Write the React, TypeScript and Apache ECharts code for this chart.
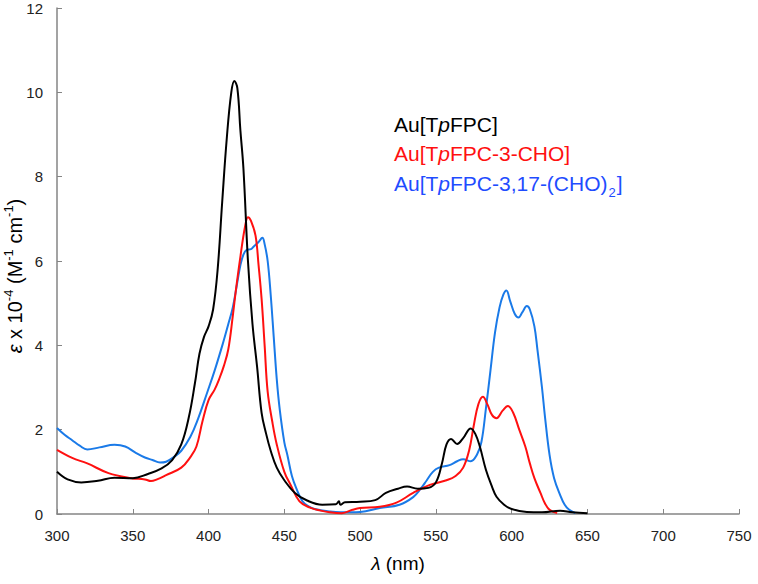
import React, { useEffect, useRef } from "react";
import * as echarts from "echarts";

const xTicks = [300, 350, 400, 450, 500, 550, 600, 650, 700, 750];
const yTicks = [0, 2, 4, 6, 8, 10, 12];

const seriesNames = ["Au[TpFPC]", "Au[TpFPC-3-CHO]", "Au[TpFPC-3,17-(CHO)2]"];

const auTpFPC: [number, number][] = [
  [300, 1.0], [307, 0.82], [316, 0.75], [327, 0.79], [338, 0.86], [350, 0.85], [360, 0.95],
  [369, 1.08], [376, 1.28], [382, 1.65], [387, 2.3], [391, 3.1], [394, 3.8], [397, 4.2],
  [400, 4.45], [403, 4.85], [406, 5.8], [409, 7.4], [412, 8.9], [415, 10.0], [417, 10.27],
  [419, 10.1], [421, 9.1], [423, 8.2], [426, 6.0], [429, 4.5], [432, 3.5], [435, 2.4],
  [438, 1.9], [441, 1.5], [445, 1.1], [450, 0.8], [457, 0.5], [465, 0.32], [475, 0.22],
  [484, 0.23], [486, 0.3], [487, 0.22], [490, 0.28], [500, 0.29], [510, 0.33], [517, 0.5],
  [525, 0.6], [531, 0.65], [538, 0.6], [545, 0.62], [550, 0.75], [554, 1.2], [557, 1.65],
  [560, 1.78], [564, 1.66], [568, 1.8], [573, 2.03], [576, 1.9], [579, 1.6], [583, 1.05],
  [587, 0.65], [590, 0.41], [595, 0.22], [600, 0.12], [610, 0.05], [620, 0.04], [632, 0.08],
  [640, 0.04], [650, 0.02],
];

const auCHO: [number, number][] = [
  [300, 1.52], [310, 1.33], [320, 1.2], [334, 0.97], [349, 0.85], [358, 0.82], [362, 0.78],
  [366, 0.82], [372, 0.92], [382, 1.1], [388, 1.35], [392, 1.6], [396, 2.2], [400, 2.7],
  [404, 2.95], [407, 3.2], [410, 3.5], [413, 3.9], [416, 4.7], [418, 5.3], [421, 6.1],
  [424, 6.8], [426, 7.04], [428, 6.95], [431, 6.6], [433, 5.9], [435, 5.1], [437, 4.0],
  [439, 2.9], [442, 2.2], [445, 1.65], [450, 1.0], [454, 0.7], [460, 0.3], [467, 0.15],
  [474, 0.08], [480, 0.04], [488, 0.02], [495, 0.1], [500, 0.14], [513, 0.17], [524, 0.27],
  [535, 0.5], [546, 0.69], [557, 0.8], [563, 0.9], [568, 1.1], [572, 1.52], [575, 2.1],
  [578, 2.6], [581, 2.78], [584, 2.6], [587, 2.35], [590, 2.27], [594, 2.45], [597.5, 2.56],
  [601, 2.4], [605, 2.0], [609, 1.6], [612, 1.2], [615, 0.85], [619, 0.5], [622, 0.25],
  [625, 0.1], [630, 0.02],
];

const auDiCHO: [number, number][] = [
  [300, 2.04], [305, 1.88], [310, 1.75], [315, 1.62], [320, 1.53], [328, 1.58], [338, 1.64],
  [345, 1.6], [352, 1.45], [358, 1.34], [363, 1.28], [368, 1.22], [372, 1.24], [377, 1.35],
  [382, 1.5], [388, 1.83], [393, 2.25], [399, 2.87], [404, 3.4], [409.5, 4.05], [413, 4.5],
  [416, 4.9], [419, 5.5], [421, 5.9], [423, 6.15], [425, 6.26], [428, 6.28], [430, 6.35],
  [433, 6.45], [435.5, 6.55], [437, 6.4], [439, 6.0], [441, 5.2], [443, 4.2], [445, 3.2],
  [447, 2.47], [450, 1.7], [452, 1.4], [455, 0.9], [458, 0.6], [462, 0.3], [466, 0.18],
  [470, 0.12], [480, 0.06], [487, 0.04], [500, 0.05], [513, 0.14], [526, 0.22], [535, 0.4],
  [540, 0.6], [544, 0.8], [548, 1.0], [552, 1.1], [559, 1.16], [564, 1.25], [568, 1.3],
  [573, 1.25], [577, 1.4], [580, 1.7], [583, 2.5], [586, 3.4], [589, 4.3], [592, 4.9],
  [594.5, 5.2], [596.5, 5.3], [599, 5.05], [602, 4.75], [604.5, 4.66], [607, 4.78],
  [610, 4.93], [612, 4.85], [615, 4.45], [617, 3.9], [620, 3.0], [622, 2.3], [625, 1.4],
  [628, 0.85], [632, 0.45], [635, 0.22], [638, 0.1], [642, 0.02],
];

const lineColors = ["#000000", "#ff1010", "#1a7ae8"];
const textColors = ["#000000", "#ff1010", "#1f4cff"];

export default function App() {
  const ref = useRef<HTMLDivElement>(null);
  useEffect(() => {
    if (!ref.current) return;
    const chart = echarts.init(ref.current, null, { renderer: "svg" });
    const font = "Liberation Sans, Arial, sans-serif";
    const legendRich = (color: string) => ({
      b: { fontSize: 21, fontFamily: font, fill: color, color, lineHeight: 26 },
      i: { fontSize: 21, fontFamily: font, fontStyle: "italic", fill: color, color, lineHeight: 26 },
      s: { fontSize: 13, fontFamily: font, fill: color, color, verticalAlign: "bottom", lineHeight: 13, padding: [0, 1, -3, 1] },
    });
    const legendTexts = [
      "{b|Au[T}{i|p}{b|FPC]}",
      "{b|Au[T}{i|p}{b|FPC-3-CHO]}",
      "{b|Au[T}{i|p}{b|FPC-3,17-(CHO)}{s|2}{b|]}",
    ];
    const legendY = [124, 153, 183];
    chart.setOption({
      animation: false,
      backgroundColor: "#ffffff",
      grid: { left: 57, right: 19, top: 8, bottom: 70, containLabel: false },
      xAxis: {
        type: "value",
        min: 300,
        max: 750,
        interval: 50,
        axisLine: { show: true, lineStyle: { color: "#858585", width: 1.5 } },
        axisTick: { show: true, inside: true, length: 5, lineStyle: { color: "#858585" } },
        splitLine: { show: false },
        axisLabel: { color: "#222", fontSize: 15, fontFamily: font, margin: 14 },
      },
      yAxis: {
        type: "value",
        min: 0,
        max: 12,
        interval: 2,
        axisLine: { show: true, lineStyle: { color: "#858585", width: 1.5 } },
        axisTick: { show: true, inside: true, length: 5, lineStyle: { color: "#858585" } },
        splitLine: { show: false },
        axisLabel: { color: "#222", fontSize: 15, fontFamily: font, margin: 14 },
      },
      graphic: [
        ...legendTexts.map((t, k) => ({
          type: "text",
          x: 394,
          y: legendY[k],
          style: {
            text: t,
            verticalAlign: "middle",
            rich: legendRich(textColors[k]),
            fill: textColors[k],
          },
          silent: true,
        })),
        {
          type: "text",
          x: 15,
          y: 276,
          rotation: Math.PI / 2,
          style: {
            text: "{i|ε}{b| x 10}{s|-4}{b| (M}{s|-1}{b| cm}{s|-1}{b|)}",
            align: "center",
            verticalAlign: "middle",
            fill: "#000",
            rich: {
              b: { fontSize: 20, fontFamily: font, fill: "#000", lineHeight: 26 },
              i: { fontSize: 20, fontFamily: font, fontStyle: "italic", fill: "#000", lineHeight: 26 },
              s: { fontSize: 13, fontFamily: font, fill: "#000", verticalAlign: "top", lineHeight: 14 },
            },
          },
          silent: true,
        },
        {
          type: "text",
          x: 398,
          y: 563,
          style: {
            text: "{i|λ}{b| (nm)}",
            align: "center",
            verticalAlign: "middle",
            fill: "#000",
            rich: {
              b: { fontSize: 19, fontFamily: font, fill: "#000" },
              i: { fontSize: 19, fontFamily: font, fontStyle: "italic", fill: "#000" },
            },
          },
          silent: true,
        },
      ],
      series: [auTpFPC, auCHO, auDiCHO].map((d, k) => ({
        name: seriesNames[k],
        type: "line",
        data: d,
        smooth: 0.4,
        showSymbol: false,
        symbol: "none",
        lineStyle: { color: lineColors[k], width: 2 },
        z: 3 - k,
      })),
    });
    return () => chart.dispose();
  }, []);
  return (
    <div
      ref={ref}
      style={{ position: "absolute", left: 0, top: 0, width: 758, height: 584, background: "#fff" }}
    />
  );
}
